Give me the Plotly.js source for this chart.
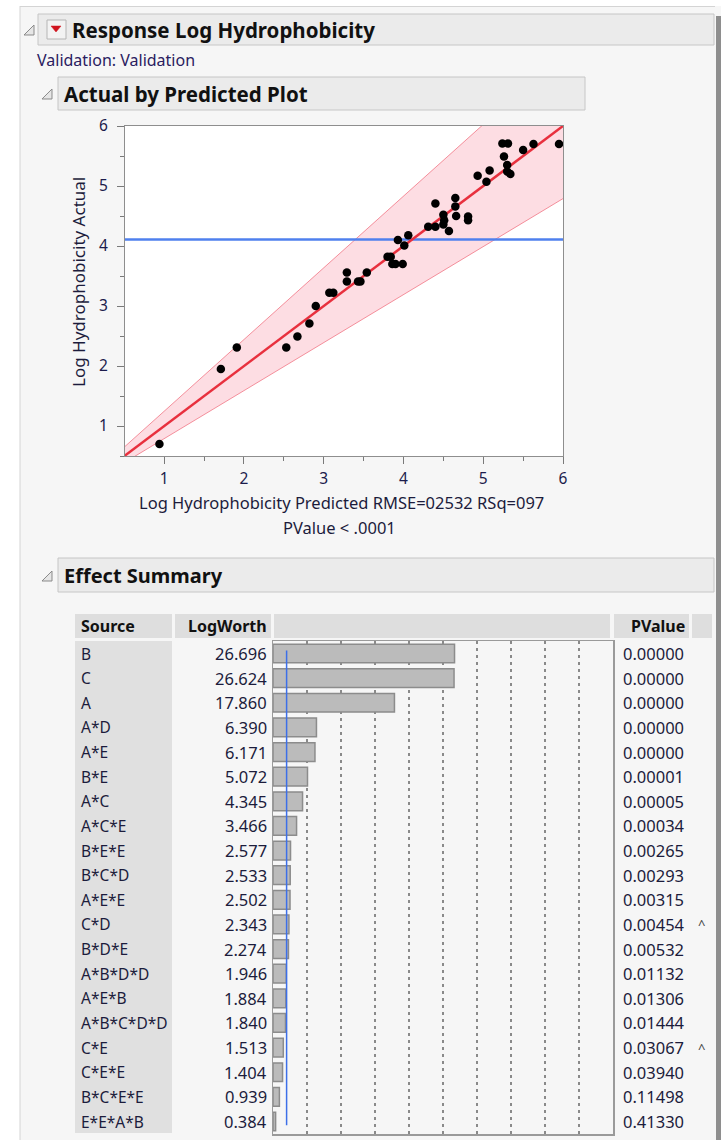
<!DOCTYPE html>
<html>
<head>
<meta charset="utf-8">
<script src="https://cdn.plot.ly/plotly-3.0.1.min.js"></script>
<style>
html,body{margin:0;padding:0;background:#f6f6f6;}
#chart{width:721px;height:1140px;}
</style>
</head>
<body>
<div id="chart"></div>
<script>
// ---------- DATA ----------
const predicted = [0.94, 1.71, 1.91, 2.53, 2.67, 2.82, 2.90, 3.07, 3.12, 3.29, 3.29, 3.43, 3.46, 3.54,
  3.80, 3.84, 3.86, 3.90, 3.99, 3.93, 4.01, 4.06, 4.31, 4.40, 4.40, 4.50, 4.51, 4.50, 4.57,
  4.65, 4.65, 4.66, 4.81, 4.81, 4.93, 5.04, 5.08, 5.24, 5.31, 5.26, 5.30, 5.30, 5.34, 5.50, 5.63, 5.95];
const actual = [0.70, 1.95, 2.31, 2.31, 2.49, 2.71, 3.00, 3.22, 3.22, 3.41, 3.56, 3.41, 3.41, 3.56,
  3.82, 3.82, 3.70, 3.70, 3.70, 4.10, 4.01, 4.18, 4.32, 4.32, 4.71, 4.52, 4.43, 4.36, 4.25,
  4.80, 4.66, 4.50, 4.49, 4.43, 5.17, 5.07, 5.26, 5.71, 5.71, 5.49, 5.35, 5.24, 5.20, 5.60, 5.70, 5.70];
const fitX = [0.5, 6];
const fitY = [0.5, 6];
const bandUpper = [0.65, 7.22];
const bandLower = [0.39, 4.79];
const meanActual = 4.11;
const xTicks = [1, 2, 3, 4, 5, 6];
const yTicks = [1, 2, 3, 4, 5, 6];
const xTitle = "Log Hydrophobicity Predicted RMSE=02532 RSq=097";
const xTitle2 = "PValue < .0001";
const yTitle = "Log Hydrophobicity Actual";

const sources = ["B","C","A","A*D","A*E","B*E","A*C","A*C*E","B*E*E","B*C*D","A*E*E","C*D","B*D*E",
  "A*B*D*D","A*E*B","A*B*C*D*D","C*E","C*E*E","B*C*E*E","E*E*A*B"];
const logWorth = [26.696, 26.624, 17.860, 6.390, 6.171, 5.072, 4.345, 3.466, 2.577, 2.533, 2.502,
  2.343, 2.274, 1.946, 1.884, 1.840, 1.513, 1.404, 0.939, 0.384];
const pValues = ["0.00000","0.00000","0.00000","0.00000","0.00000","0.00001","0.00005","0.00034",
  "0.00265","0.00293","0.00315","0.00454","0.00532","0.01132","0.01306","0.01444","0.03067",
  "0.03940","0.11498","0.41330"];
const caretFlags = ["","","","","","","","","","","","^","","","","","^","","",""];
const refLogWorth = 2;

// ---------- LAYOUT HELPERS ----------
const W = 721, H = 1140;
const px = x => x / W;
const py = y => 1 - y / H;
const FONT = "Noto Sans, Open Sans, DejaVu Sans, sans-serif";
const TXT = "#1c1c3c";

function rect(x0, y0, x1, y1, fill, line, lw) {
  return {type: "rect", xref: "paper", yref: "paper", x0: px(x0), x1: px(x1), y0: py(y1), y1: py(y0),
    fillcolor: fill, line: {color: line || fill, width: lw === undefined ? 1 : lw}, layer: "below"};
}
function tri(cx, cy) {
  const p = (x, y) => px(x).toFixed(5) + "," + py(y).toFixed(5);
  return {type: "path", xref: "paper", yref: "paper",
    path: "M" + p(cx + 5, cy - 5) + " L" + p(cx + 5, cy + 5) + " L" + p(cx - 5, cy + 5) + " Z",
    fillcolor: "#e6e6e6", line: {color: "#8a8a8a", width: 1}};
}

const shapes = [
  rect(0, 0, 721, 6, "#ffffff", "#ffffff", 0),
  rect(0, 0, 20, 1140, "#ffffff", "#ffffff", 0),
  {type: "line", xref: "paper", yref: "paper", x0: px(20), x1: px(20), y0: py(1140), y1: py(6), line: {color: "#d4d4d4", width: 1}},
  {type: "line", xref: "paper", yref: "paper", x0: px(20), x1: px(715), y0: py(6.5), y1: py(6.5), line: {color: "#d4d4d4", width: 1}},
  rect(716, 16, 721, 1140, "#8e8e8e", "#8e8e8e", 0),
  rect(38, 14, 714, 45, "#ebebeb", "#c6c6c6", 1),
  rect(58, 77, 585, 110, "#ebebeb", "#c6c6c6", 1),
  rect(58, 558, 714, 592, "#ebebeb", "#c6c6c6", 1),
  rect(75, 614, 172, 638, "#dedede", "#dedede", 0),
  rect(175, 614, 271, 638, "#dedede", "#dedede", 0),
  rect(274, 614, 610, 638, "#dedede", "#dedede", 0),
  rect(614, 614, 689, 638, "#dedede", "#dedede", 0),
  rect(692, 614, 712, 638, "#dedede", "#dedede", 0),
  rect(75, 641, 172, 1133, "#e0e0e0", "#e0e0e0", 0),
  {type: "rect", xref: "x domain", yref: "y domain", x0: 0, x1: 1, y0: 0, y1: 1, fillcolor: "#ffffff", line: {width: 0}, layer: "below"},
  tri(29, 30), tri(47, 94), tri(47, 576),
  {type: "rect", xref: "paper", yref: "paper", x0: px(47), x1: px(66), y0: py(39), y1: py(20), fillcolor: "#f3f3f3", line: {color: "#b5b5b5", width: 1}},
  {type: "path", xref: "paper", yref: "paper",
    path: "M" + px(51) + "," + py(26) + " L" + px(61) + "," + py(26) + " L" + px(56) + "," + py(32) + " Z",
    fillcolor: "#d0141e", line: {color: "#d0141e", width: 0.5}},
  {type: "line", xref: "x2", yref: "y2", x0: refLogWorth, x1: refLogWorth, y0: -0.12, y1: 19.15,
    line: {color: "#3d6fe8", width: 1.5}, layer: "above"}
];

const annotations = [];
function txt(text, x, y, opt) {
  const o = Object.assign({size: 15, color: TXT, xanchor: "left", bold: false}, opt || {});
  annotations.push({text: o.bold ? "<b>" + text + "</b>" : text, x: px(x), y: (o.yref ? y : py(y)),
    xref: "paper", yref: o.yref || "paper", xanchor: o.xanchor, yanchor: "middle", showarrow: false,
    textangle: o.angle || 0, borderpad: 0,
    font: {family: FONT, size: o.size, color: o.color}});
}
txt("Response Log Hydrophobicity", 71, 30, {size: 20.5, bold: true, color: "#111"});
txt("Validation: Validation", 36, 60, {size: 16, color: "#2a2060"});
txt("Actual by Predicted Plot", 63, 94, {size: 20.5, bold: true, color: "#111"});
txt("Effect Summary", 63, 575, {size: 20, bold: true, color: "#111"});
txt(yTitle, 78, 282, {size: 17, angle: -90, xanchor: "center"});
txt(xTitle, 341, 503, {size: 16.5, xanchor: "center"});
txt(xTitle2, 339, 527, {size: 16.5, xanchor: "center"});
txt("Source", 80, 626, {size: 16, bold: true, color: "#111"});
txt("LogWorth", 268, 626, {size: 16, bold: true, color: "#111", xanchor: "right"});
txt("PValue", 686, 626, {size: 16, bold: true, color: "#111", xanchor: "right"});
sources.forEach((s, i) => {
  txt(s, 80, i, {yref: "y2", size: 15.5});
  txt(logWorth[i].toFixed(3), 268, i, {yref: "y2", size: 16.5, xanchor: "right"});
  txt(pValues[i], 622, i, {yref: "y2", size: 16.5});
  if (caretFlags[i]) txt(caretFlags[i], 697, i, {yref: "y2", size: 13, color: "#444"});
});

// ---------- TRACES ----------
const traces = [
  {x: fitX, y: bandLower, type: "scatter", mode: "lines", xaxis: "x", yaxis: "y",
    line: {color: "rgba(240,110,125,0.75)", width: 1}, hoverinfo: "skip"},
  {x: fitX, y: bandUpper, type: "scatter", mode: "lines", xaxis: "x", yaxis: "y", fill: "tonexty",
    fillcolor: "rgba(250,175,188,0.42)", line: {color: "rgba(240,110,125,0.75)", width: 1}, hoverinfo: "skip"},
  {x: fitX, y: [meanActual, meanActual], type: "scatter", mode: "lines", xaxis: "x", yaxis: "y",
    line: {color: "#4f80ee", width: 2.5}},
  {x: fitX, y: fitY, type: "scatter", mode: "lines", xaxis: "x", yaxis: "y",
    line: {color: "#e8303e", width: 2.5}},
  {x: predicted, y: actual, type: "scatter", mode: "markers", xaxis: "x", yaxis: "y",
    marker: {color: "#000000", size: 8.5}, cliponaxis: true},
  {x: logWorth, y: sources, type: "bar", orientation: "h", xaxis: "x2", yaxis: "y2", width: 0.76,
    marker: {color: "#bbbbbb", line: {color: "#8c8c8c", width: 1.5}}}
];

const axisFont = {family: FONT, size: 15.5, color: "#1c1c4c"};
const layout = {
  width: W, height: H,
  margin: {l: 0, r: 0, t: 0, b: 0},
  paper_bgcolor: "#f6f6f6",
  plot_bgcolor: "#f6f6f6",
  showlegend: false,
  font: {family: FONT},
  xaxis: {domain: [px(125), px(563)], range: [0.508, 6], tickvals: xTicks, ticktext: xTicks.map(String),
    ticks: "outside", ticklen: 7, tickwidth: 1, tickcolor: "#7a7a7a", ticklabelstandoff: 1,
    minor: {dtick: 0.5, tick0: 0, ticks: "outside", ticklen: 4, tickcolor: "#7a7a7a"},
    showline: true, linecolor: "#8e8e8e", linewidth: 1, mirror: true, showgrid: false, zeroline: false,
    tickfont: axisFont, anchor: "y", fixedrange: true},
  yaxis: {domain: [py(456), py(126)], range: [0.5, 6], tickvals: yTicks, ticktext: yTicks.map(String),
    ticks: "outside", ticklen: 7, tickwidth: 1, tickcolor: "#7a7a7a", ticklabelstandoff: 6,
    minor: {dtick: 0.5, tick0: 0, ticks: "outside", ticklen: 4, tickcolor: "#7a7a7a"},
    showline: true, linecolor: "#8e8e8e", linewidth: 1, mirror: true, showgrid: false, zeroline: false,
    tickfont: axisFont, anchor: "x", fixedrange: true},
  xaxis2: {domain: [px(273), px(613)], range: [0, 50], dtick: 5, tick0: 0, showticklabels: false,
    ticks: "", showgrid: true, griddash: "3px,4px", gridcolor: "#8a8a8a", gridwidth: 1.2,
    showline: true, linecolor: "#9a9a9a", linewidth: 1.5, mirror: true, zeroline: false, anchor: "y2", fixedrange: true},
  yaxis2: {domain: [py(1134), py(641)], type: "category", autorange: "reversed", showticklabels: false,
    ticks: "", showgrid: false, showline: true, linecolor: "#9a9a9a", linewidth: 1.5, mirror: true,
    zeroline: false, anchor: "x2", fixedrange: true},
  shapes: shapes,
  annotations: annotations
};

Plotly.newPlot("chart", traces, layout, {staticPlot: true, displayModeBar: false});
</script>
</body>
</html>
